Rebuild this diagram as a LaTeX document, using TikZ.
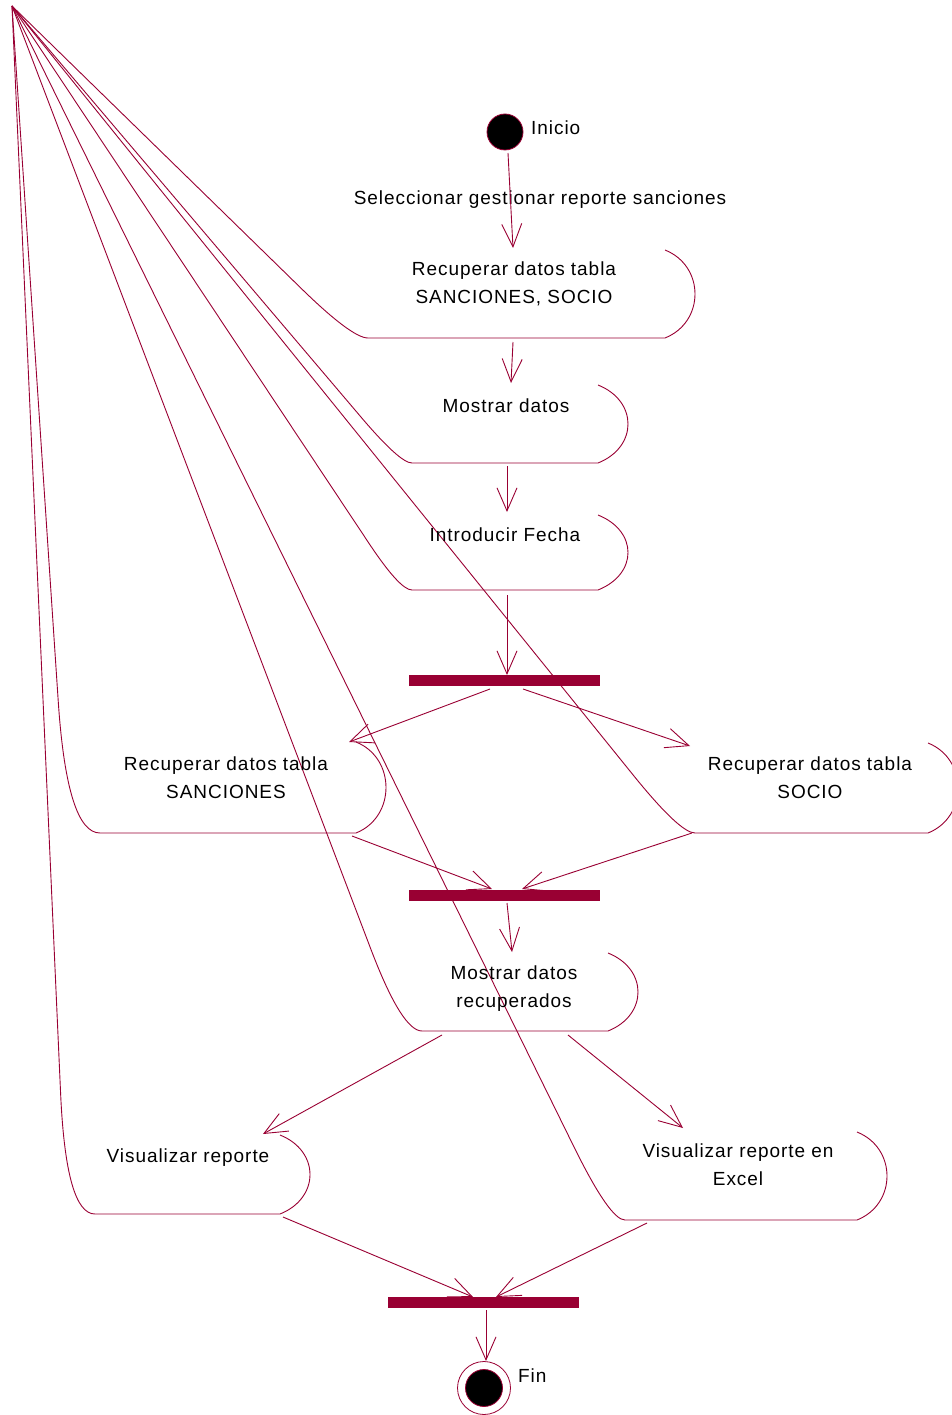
\documentclass[tikz,border=0pt]{standalone}
\usepackage{fontspec}
\setmainfont{Liberation Sans}
\usetikzlibrary{arrows.meta,calc}
\definecolor{uml}{RGB}{153,0,51}
% #1 right x, #2 top y, #3 bottom y, #4 bottom-left x, #5 corner offset, #6 fraction where curve starts
\newcommand\ActShape[6]{%
  \path ({#4-#5},#3) coordinate (C) ($(apex)!#6!(C)$) coordinate (P) (#4,#3) coordinate (E);
  \draw[line] (apex) -- (P) .. controls ($(P)!2/3!(C)$) and ($(E)!2/3!(C)$) .. (E)
    -- (#1,#3) .. controls ({#1+40},{#3-16}) and ({#1+40},{#2+16}) .. (#1,#2);}
\begin{document}
\begin{tikzpicture}[x=1pt,y=-1pt,
  line/.style={draw=uml, line width=0.9pt},
  flow/.style={line, -{Straight Barb[length=23pt,width=20pt]}},
  lbl/.style={font=\fontsize{19}{28}\selectfont\addfontfeature{LetterSpace=5}, text=black, align=center, inner sep=0pt},
  bar/.style={fill=uml, draw=none, minimum width=191pt, minimum height=11pt, inner sep=0pt},
  initial/.style={circle, fill=black, draw=uml, line width=0.8pt, inner sep=0pt}]
\useasboundingbox (0,0) rectangle (951,1415);
\coordinate (apex) at (12,6);

% activity shapes
\ActShape{665}{250}{338}{368}{16}{0.85}
\ActShape{598}{385}{463}{412}{12}{0.9}
\ActShape{598}{515}{590}{412}{12}{0.92}
\ActShape{356}{742}{833}{100}{33}{0.84}
\ActShape{928}{743}{833}{695}{15}{0.93}
\ActShape{608}{953}{1031}{422}{20}{0.92}
\ActShape{280}{1135}{1214}{95}{29}{0.9}
\ActShape{857}{1132}{1220}{625}{15}{0.94}

% texts
\node[lbl] (t1) at (514,284) {Recuperar datos tabla\\SANCIONES, SOCIO};
\node[lbl] (t2) at (506,406) {Mostrar datos};
\node[lbl] (t3) at (505,535) {Introducir Fecha};
\node[lbl] (t4) at (226,778) {Recuperar datos tabla\\SANCIONES};
\node[lbl] (t5) at (810,778) {Recuperar datos tabla\\SOCIO};
\node[lbl] (t6) at (514,989) {Mostrar datos\\recuperados};
\node[lbl] (t7) at (188,1158) {Visualizar reporte};
\node[lbl] (t8) at (738,1165) {Visualizar reporte en\\Excel};
\node[lbl] (sel) at (540,200) {Seleccionar gestionar reporte sanciones};

% start / end
\node[initial, minimum size=36pt] (start) at (505,132) {};
\node[lbl, anchor=west] (inicio) at (531,128) {Inicio};
\node[circle, draw=uml, line width=0.8pt, minimum size=53pt, inner sep=0pt] (fin) at (484,1388) {};
\node[initial, minimum size=37pt] (fininner) at (484,1388) {};
\node[lbl, anchor=west] (finl) at (518,1376) {Fin};

% bars
\node[bar] (b1) at (504.5,680) {};
\node[bar] (b2) at (504.5,895) {};
\node[bar] (b3) at (483.5,1302.5) {};

% arrow endpoints
\coordinate (s1) at (508,153);  \coordinate (e1) at (513,248);
\coordinate (s2) at (513,342);  \coordinate (e2) at (511,383);
\coordinate (s3) at (507,466);  \coordinate (e3) at (507,512);
\coordinate (s4) at (507,595);  \coordinate (e4) at (507,675);
\coordinate (s5) at (490,689);  \coordinate (e5) at (349,742);
\coordinate (s6) at (523,689);  \coordinate (e6) at (690,746);
\coordinate (s7) at (352,836);  \coordinate (e7) at (492,889);
\coordinate (s8) at (692,833);  \coordinate (e8) at (522,889);
\coordinate (s9) at (507,903);  \coordinate (e9) at (512,952);
\coordinate (s10) at (442,1035); \coordinate (e10) at (263,1134);
\coordinate (s11) at (568,1035); \coordinate (e11) at (683,1128);
\coordinate (s12) at (283,1217); \coordinate (e12) at (473,1297);
\coordinate (s13) at (647,1223); \coordinate (e13) at (496,1297);
\coordinate (s14) at (486,1310); \coordinate (e14) at (486,1361);

\foreach \i in {1,...,14} {\draw[flow] (s\i) -- (e\i);}
\end{tikzpicture}
\end{document}
